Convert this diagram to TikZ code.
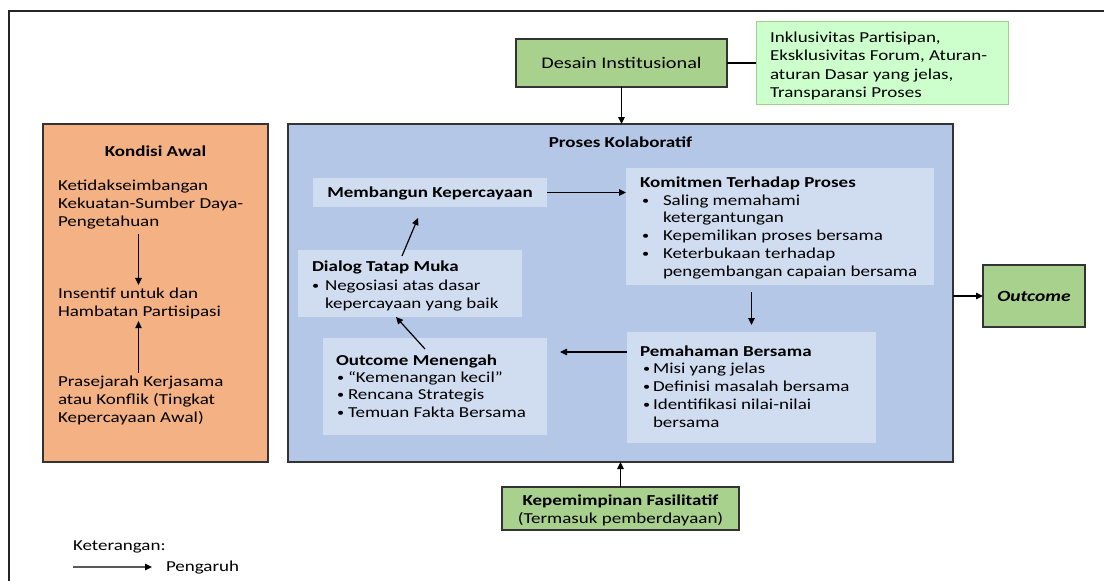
\documentclass[tikz,border=0pt]{standalone}
\usepackage{fontspec}
\setmainfont{Carlito}[FakeStretch=1.25]
\usetikzlibrary{arrows.meta,calc}
\definecolor{grn}{HTML}{A9D18E}
\definecolor{lgrn}{HTML}{CCFFCC}
\definecolor{lgrnb}{HTML}{9FCF8A}
\definecolor{org}{HTML}{F4B183}
\definecolor{blu}{HTML}{B4C7E7}
\definecolor{lblu}{HTML}{D0DCF0}
\definecolor{edge}{HTML}{333333}
\newcommand\tline[4]{\node[txt,anchor=base west] (#1) at (#2,#3) {#4};}
\newcommand\ctline[4]{\node[txt,anchor=base] (#1) at (#2,#3) {#4};}
\newcommand\bul[1]{\makebox[#1][l]{\raisebox{0.8pt}{\scalebox{0.75}{•}}}}
\begin{document}
\begin{tikzpicture}[x=1pt,y=-1pt,
 txt/.style={inner sep=0pt,outer sep=0pt,font=\fontsize{15.2}{18}\selectfont},
 bx/.style={draw=edge,line width=1.5pt,inner sep=0pt,outer sep=0pt},
 ibx/.style={fill=lblu,draw=none,inner sep=0pt,outer sep=0pt},
 arr/.style={-{Triangle[length=7pt,width=6.5pt]},line width=1.2pt,draw=black},
]
\useasboundingbox (0,0) rectangle (1104,581);
\fill[white] (0,0) rectangle (1104,581);
\draw[line width=2pt,black!85] (9,581) -- (9,11) -- (1104,11);

% top
\node[bx,fill=grn,minimum width=211pt,minimum height=48pt] (desain) at (621.5,63) {};
\node[txt,font=\fontsize{16.2}{19}\selectfont] (desainT) at (desain) {Desain Institusional};
\node[draw=lgrnb,fill=lgrn,line width=1pt,inner sep=0pt,outer sep=0pt,minimum width=252pt,minimum height=83pt] (inklusi) at (882,63) {};
\tline{i1}{770}{42}{Inklusivitas Partisipan,}
\tline{i2}{770}{60.5}{Eksklusivitas Forum, Aturan-}
\tline{i3}{770}{79}{aturan Dasar yang jelas,}
\tline{i4}{770}{97.5}{Transparansi Proses}

% main boxes
\node[bx,fill=org,minimum width=225pt,minimum height=338pt] (kondisi) at (155.5,293) {};
\node[bx,fill=blu,minimum width=665pt,minimum height=338pt] (proses) at (620.5,293) {};
\node[bx,fill=grn,minimum width=102pt,minimum height=62pt] (outcome) at (1034,296) {};
\node[txt,font=\fontsize{15.6}{18}\selectfont\bfseries\itshape] (outcomeT) at (outcome) {Outcome};
\node[bx,fill=grn,minimum width=237pt,minimum height=43pt] (kepem) at (620.5,508.5) {};
\ctline{kp1}{620.5}{505}{\bfseries Kepemimpinan Fasilitatif}
\ctline{kp2}{620.5}{523}{(Termasuk pemberdayaan)}

% kondisi awal content
\ctline{ka0}{155.5}{156}{\bfseries Kondisi Awal}
\tline{ka1}{58}{190.5}{Ketidakseimbangan}
\tline{ka2}{58}{208.5}{Kekuatan-Sumber Daya-}
\tline{ka3}{58}{226.5}{Pengetahuan}
\tline{ka4}{58}{298}{Insentif untuk dan}
\tline{ka5}{58}{316}{Hambatan Partisipasi}
\tline{ka6}{58}{386.5}{Prasejarah Kerjasama}
\tline{ka7}{58}{404.5}{atau Konflik (Tingkat}
\tline{ka8}{58}{422.5}{Kepercayaan Awal)}
\coordinate (kx) at (138.5,0);
\draw[arr,shorten <=4.5pt] (ka3.south -| kx) -- ([yshift=2.5pt]ka4.north -| kx);
\draw[arr,shorten <=3pt] (ka6.north -| kx) -- ([yshift=-2.7pt]ka5.south -| kx);

% proses kolaboratif content
\ctline{pk}{620.5}{147}{\bfseries Proses Kolaboratif}
\node[ibx,minimum width=234pt,minimum height=29pt] (membangun) at (430,192.5) {};
\ctline{mb}{430}{197}{\bfseries Membangun Kepercayaan}

\node[ibx,minimum width=308pt,minimum height=117pt] (komitmen) at (780,226.5) {};
\tline{km0}{640}{187}{\bfseries Komitmen Terhadap Proses}
\tline{km1}{642}{205}{\bul{21pt}Saling memahami}
\tline{km2}{663}{222.5}{ketergantungan}
\tline{km3}{642}{240}{\bul{21pt}Kepemilikan proses bersama}
\tline{km4}{642}{258}{\bul{21pt}Keterbukaan terhadap}
\tline{km5}{663}{276}{pengembangan capaian bersama}

\node[ibx,minimum width=224pt,minimum height=67pt] (dialog) at (410,283.5) {};
\tline{dl0}{312}{271}{\bfseries Dialog Tatap Muka}
\tline{dl1}{312}{290}{\bul{13pt}Negosiasi atas dasar}
\tline{dl2}{325}{308}{kepercayaan yang baik}

\node[ibx,minimum width=224pt,minimum height=97pt] (menengah) at (435,386.5) {};
\tline{om0}{336}{365}{\bfseries Outcome Menengah}
\tline{om1}{337}{382}{\bul{11pt}“Kemenangan kecil”}
\tline{om2}{337}{399.5}{\bul{11pt}Rencana Strategis}
\tline{om3}{337}{417}{\bul{11pt}Temuan Fakta Bersama}

\node[ibx,minimum width=249pt,minimum height=111pt] (pemahaman) at (751.5,387.5) {};
\tline{pm0}{640}{356}{\bfseries Pemahaman Bersama}
\tline{pm1}{643}{373}{\bul{10pt}Misi yang jelas}
\tline{pm2}{643}{391}{\bul{10pt}Definisi masalah bersama}
\tline{pm3}{643}{409}{\bul{10pt}Identifikasi nilai-nilai}
\tline{pm4}{653}{427}{bersama}

% connectors
\draw[line width=1.2pt] (desain.east) -- (desain.east -| inklusi.west);
\draw[arr] (desain.south) -- (desain.south |- proses.north);
\draw[arr] (kepem.north) -- (kepem.north |- proses.south);
\draw[arr] (outcome.west -| proses.east) -- (outcome.west);
\draw[arr] (membangun.east) -- (membangun.east -| komitmen.west);
\draw[arr,shorten <=7pt,shorten >=7pt] (komitmen.south -| pemahaman.north) -- (pemahaman.north);
\draw[arr] ($(pemahaman.north west)+(0,20)$) -- ($(menengah.north east)+(13,14)$);
\draw[arr] ($(menengah.north)+(-10,11)$) -- ($(dialog.south)+(-14,0)$);
\draw[arr] ($(dialog.north)+(-8,6)$) -- ($(membangun.south)+(-12,11)$);

% legend
\tline{ket}{73}{550}{Keterangan:}
\tline{peng}{166}{571}{Pengaruh}
\coordinate (legA) at (73,567);
\draw[arr] (legA) -- ($(peng.west)+(-14,0)$);
\end{tikzpicture}
\end{document}
